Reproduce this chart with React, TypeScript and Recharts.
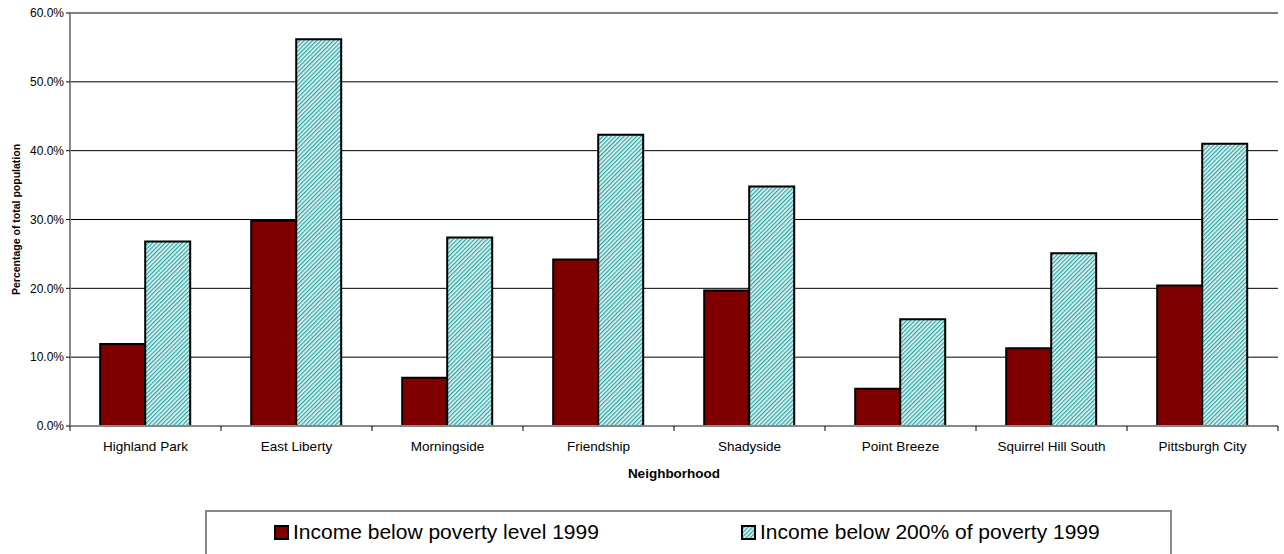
import React from 'react';
import {
  BarChart,
  Bar,
  XAxis,
  YAxis,
  CartesianGrid,
} from 'recharts';

const neighborhoods = [
  'Highland Park',
  'East Liberty',
  'Morningside',
  'Friendship',
  'Shadyside',
  'Point Breeze',
  'Squirrel Hill South',
  'Pittsburgh City',
];
const belowPoverty = [11.9, 29.8, 7.0, 24.2, 19.7, 5.4, 11.3, 20.4];
const below200 = [26.8, 56.2, 27.4, 42.3, 34.8, 15.5, 25.1, 41.0];
const yTicks = [0, 10, 20, 30, 40, 50, 60];

const seriesNames = ['Income below poverty level 1999', 'Income below 200% of poverty 1999'];

const data = neighborhoods.map((name, i) => ({
  name,
  poverty: belowPoverty[i],
  poverty200: below200[i],
}));

const FONT = '"Liberation Sans", Arial, sans-serif';
const CHART_W = 1284;
const CHART_H = 554;
const MARGIN = { top: 13, right: 6, left: 0, bottom: 68 };
const Y_W = 70;
const bandWidth = (CHART_W - MARGIN.left - MARGIN.right - Y_W) / neighborhoods.length;

const CategoryTick = (props: any) => {
  const { x, y, payload, index } = props;
  const left = x - bandWidth / 2;
  return (
    <g>
      <line x1={left} x2={left} y1={y - 8} y2={y - 3} stroke="#000" />
      {index === neighborhoods.length - 1 && (
        <line x1={x + bandWidth / 2} x2={x + bandWidth / 2} y1={y - 8} y2={y - 3} stroke="#000" />
      )}
      <text x={x} y={y + 17} textAnchor="middle" fontSize={13.5} fill="#000" fontFamily={FONT}>
        {payload.value}
      </text>
    </g>
  );
};

const HatchPattern = ({ id }: { id: string }) => (
  <pattern id={id} width={3} height={3} patternUnits="userSpaceOnUse" patternTransform="rotate(45)">
    <rect width={3} height={3} fill="#e2f8f8" />
    <rect width={1.3} height={3} fill="#35a3a3" />
  </pattern>
);

const Swatch = ({ kind }: { kind: number }) => (
  <svg width={15} height={15} style={{ marginRight: 4, flex: 'none' }}>
    {kind === 0 ? (
      <rect x={1} y={1} width={13} height={13} fill="#800000" stroke="#000" strokeWidth={2} />
    ) : (
      <>
        <defs>
          <HatchPattern id="legendHatch" />
        </defs>
        <rect x={1} y={1} width={13} height={13} fill="url(#legendHatch)" stroke="#000" strokeWidth={2} />
      </>
    )}
  </svg>
);

export default function App() {
  return (
    <div style={{ position: 'absolute', left: 0, top: 0, width: CHART_W, height: CHART_H, background: '#fff', overflow: 'hidden' }}>
      <BarChart
        width={CHART_W}
        height={CHART_H}
        data={data}
        margin={MARGIN}
        barCategoryGap="20%"
        barGap={0}
      >
        <defs>
          <HatchPattern id="hatch" />
        </defs>
        <CartesianGrid horizontal vertical={false} stroke="#000" strokeWidth={1} />
        <XAxis
          dataKey="name"
          tick={<CategoryTick />}
          tickLine={false}
          axisLine={{ stroke: '#888', strokeWidth: 2 }}
          interval={0}
          height={60}
          label={{
            value: 'Neighborhood',
            position: 'insideTop',
            offset: 42,
            style: { fontFamily: FONT, fontSize: 13.5, fontWeight: 'bold', fill: '#000' },
          }}
        />
        <XAxis
          xAxisId="top"
          dataKey="name"
          orientation="top"
          height={0}
          tick={false}
          tickLine={false}
          axisLine={{ stroke: '#888', strokeWidth: 2 }}
        />
        <YAxis
          domain={[0, 60]}
          ticks={yTicks}
          width={Y_W}
          tickFormatter={(v: number) => `${v.toFixed(1)}%`}
          tick={{ fontSize: 12, fill: '#000', fontFamily: FONT }}
          tickLine={{ stroke: '#000' }}
          tickSize={4}
          axisLine={{ stroke: '#888', strokeWidth: 2 }}
          label={{
            value: 'Percentage of total population',
            angle: -90,
            position: 'insideLeft',
            offset: 16,
            style: { textAnchor: 'middle', fontFamily: FONT, fontSize: 10.5, fontWeight: 'bold', fill: '#000' },
          }}
        />
        <YAxis
          yAxisId="right"
          orientation="right"
          width={0}
          domain={[0, 60]}
          tick={false}
          tickLine={false}
          axisLine={{ stroke: '#888', strokeWidth: 2 }}
        />
        <Bar dataKey="poverty" name={seriesNames[0]} fill="#800000" stroke="#000" strokeWidth={2} isAnimationActive={false} />
        <Bar dataKey="poverty200" name={seriesNames[1]} fill="url(#hatch)" stroke="#000" strokeWidth={2} isAnimationActive={false} />
      </BarChart>
      <div
        style={{
          position: 'absolute',
          left: 205,
          top: 510,
          width: 967,
          height: 60,
          border: '2px solid #888',
          boxSizing: 'border-box',
          fontFamily: FONT,
          fontSize: 21,
          color: '#000',
        }}
      >
        {seriesNames.map((n, i) => (
          <div
            key={n}
            style={{
              position: 'absolute',
              left: i === 0 ? 67 : 534,
              top: 8,
              display: 'flex',
              alignItems: 'center',
              whiteSpace: 'nowrap',
            }}
          >
            <Swatch kind={i} />
            <span>{n}</span>
          </div>
        ))}
      </div>
    </div>
  );
}
